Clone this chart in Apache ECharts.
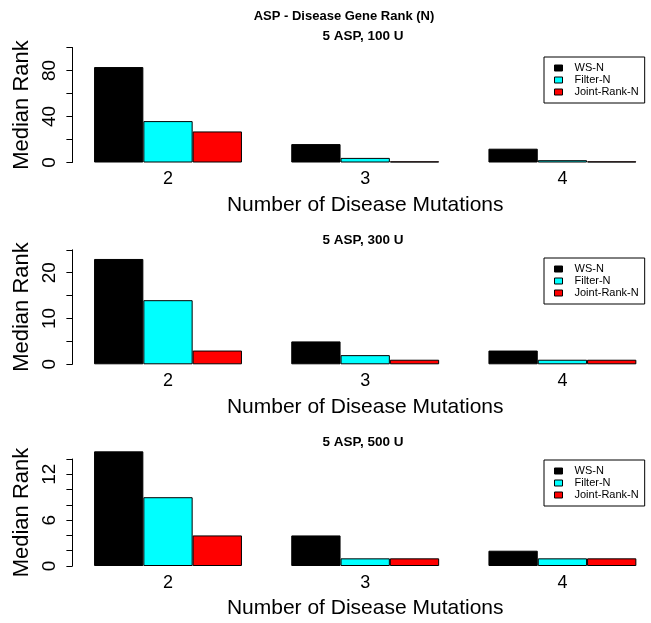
<!DOCTYPE html>
<html><head><meta charset="utf-8">
<script src="https://cdn.jsdelivr.net/npm/echarts@6/dist/echarts.min.js"></script>
<style>html,body{margin:0;padding:0;background:#fff}#c{width:651px;height:623px}</style>
</head><body><div id="c"></div>
<script>
// ---- data ----
const categories = ['2', '3', '4'];
const seriesNames = ['WS-N', 'Filter-N', 'Joint-Rank-N'];
const seriesColors = ['#000000', '#00FFFF', '#FF0000'];
const mainTitle = 'ASP - Disease Gene Rank (N)';
const panelTitles = ['5 ASP, 100 U', '5 ASP, 300 U', '5 ASP, 500 U'];
const xAxisName = 'Number of Disease Mutations';
const yAxisName = 'Median Rank';

const wsN_100 = [83, 16, 12];
const filterN_100 = [36, 4, 2];
const jointN_100 = [27, 1, 1];

const wsN_300 = [23, 5, 3];
const filterN_300 = [14, 2, 1];
const jointN_300 = [3, 1, 1];

const wsN_500 = [15, 4, 2];
const filterN_500 = [9, 1, 1];
const jointN_500 = [4, 1, 1];

const yMax = [100, 25, 14];
const yInterval = [20, 5, 2];
const yTickLabels = [['0', '40', '80'], ['0', '10', '20'], ['0', '6', '12']];

// ---- layout ----
const panelData = [
  [wsN_100, filterN_100, jointN_100],
  [wsN_300, filterN_300, jointN_300],
  [wsN_500, filterN_500, jointN_500]
];
const gridTop = [47.5, 249.8, 459];
const gridHeight = [115, 114.5, 107];
const subtitleY = [36.5, 240, 442.7];
const legendTop = [57, 258, 460];
const FONT = '"Liberation Sans", Arial, Helvetica, sans-serif';

const grids = [], xAxes = [], yAxes = [], series = [], legends = [];
const titles = [{
  text: mainTitle, left: 344, top: 16.5, textAlign: 'center', textVerticalAlign: 'middle', padding: 0,
  textStyle: { fontSize: 13, fontWeight: 'bold', color: '#000', fontFamily: FONT }
}];

for (let i = 0; i < 3; i++) {
  grids.push({
    left: 69.4, width: 591.6, top: gridTop[i], height: gridHeight[i],
    containLabel: false, outerBoundsMode: 'none'
  });
  titles.push({
    text: panelTitles[i], left: 363, top: subtitleY[i], textAlign: 'center', textVerticalAlign: 'middle', padding: 0,
    textStyle: { fontSize: 13.5, fontWeight: 'bold', color: '#000', fontFamily: FONT }
  });
  xAxes.push({
    gridIndex: i, type: 'category', data: categories,
    axisLine: { show: false }, axisTick: { show: false },
    axisLabel: { fontSize: 18, color: '#000', margin: 8, fontFamily: FONT },
    name: xAxisName, nameLocation: 'middle', nameGap: 32,
    nameTextStyle: { fontSize: 21, color: '#000', fontFamily: FONT }
  });
  const labs = yTickLabels[i];
  yAxes.push({
    gridIndex: i, type: 'value', min: 0, max: yMax[i], interval: yInterval[i], offset: -3,
    axisLine: { show: true, lineStyle: { color: '#000', width: 1 } },
    axisTick: { show: true, length: 6, lineStyle: { color: '#000', width: 1 } },
    splitLine: { show: false },
    axisLabel: {
      rotate: 90, fontSize: 19, color: '#000', margin: 13, fontFamily: FONT,
      formatter: v => labs.indexOf(String(v)) >= 0 ? String(v) : ''
    },
    name: yAxisName, nameLocation: 'middle', nameGap: 33,
    nameTextStyle: { fontSize: 22, color: '#000', fontFamily: FONT }
  });
  for (let s = 0; s < 3; s++) {
    series.push({
      type: 'bar', name: seriesNames[s], xAxisIndex: i, yAxisIndex: i,
      data: panelData[i][s], barGap: '0%', barCategoryGap: '25%', clip: false,
      itemStyle: { color: seriesColors[s], borderColor: '#000', borderWidth: 1 },
      emphasis: { disabled: true }, animation: false
    });
  }
  legends.push({
    data: seriesNames, orient: 'vertical', left: 544, top: legendTop[i], icon: 'rect',
    itemWidth: 8, itemHeight: 6, itemGap: 0, padding: [5, 6, 5, 10],
    borderColor: '#000', borderWidth: 1, selectedMode: false,
    itemStyle: { borderColor: '#000', borderWidth: 1 },
    textStyle: { fontSize: 11, lineHeight: 12, color: '#000', fontFamily: FONT, padding: [0, 0, 0, 7] }
  });
}

const chart = echarts.init(document.getElementById('c'), null, { renderer: 'canvas' });
chart.setOption({
  animation: false,
  backgroundColor: '#fff',
  title: titles,
  grid: grids,
  xAxis: xAxes,
  yAxis: yAxes,
  legend: legends,
  series: series
});
</script>
</body></html>
